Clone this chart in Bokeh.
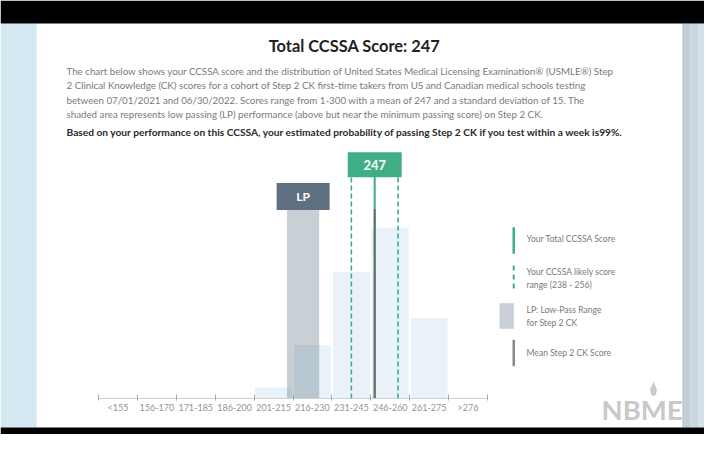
from bokeh.plotting import figure
from bokeh.models import Range1d, FixedTicker
from bokeh.core.properties import value
from bokeh.embed import file_html
from bokeh.resources import INLINE

# ---------------- data ----------------
bins = ["<155", "156-170", "171-185", "186-200", "201-215", "216-230",
        "231-245", "246-260", "261-275", ">276"]
bin_start = [141, 156, 171, 186, 201, 216, 231, 246, 261, 276]
bin_end = [155, 170, 185, 200, 215, 230, 245, 260, 275, 290]
pct = [0, 0, 0, 0, 2.2, 10.6, 25.1, 33.9, 15.9, 0]
score = 247
score_range = [238, 256]
mean_score = 247
lp_range = [213.2, 225.6]

title = f"Total CCSSA Score: {score}"
para = [
    "The chart below shows your CCSSA score and the distribution of United States Medical Licensing Examination\u00ae (USMLE\u00ae)  Step",
    "2 Clinical Knowledge (CK) scores for a cohort of Step 2 CK first-time takers from US and Canadian medical schools  testing",
    "between 07/01/2021 and 06/30/2022. Scores range from 1-300 with a mean of 247 and a standard deviation of 15.  The",
    "shaded area represents low passing (LP) performance (above but near the minimum passing score) on Step 2 CK.",
]
bold_line = "Based on your performance on this CCSSA, your estimated probability of passing Step 2 CK if you test within a week is99%."
legend_items = [["Your Total CCSSA Score"],
                ["Your CCSSA likely score", f"range ({score_range[0]} - {score_range[1]})"],
                ["LP: Low-Pass Range", "for Step 2 CK"],
                ["Mean Step 2 CK Score"]]

# ---------------- layout ----------------
W, H = 704, 434
HL, HR, HT, HB = 98, 487, 146, 398      # histogram area in pixels
YMAX = 50.0
GREEN = "#3fae84"
SLATE = "#5e7081"
FONT = "Lato"

centers = [(s + e) / 2 for s, e in zip(bin_start, bin_end)]
edges = [bin_start[0] - 0.5] + [e + 0.5 for e in bin_end]
X0, X1 = edges[0], edges[-1]


def dx(px):
    return X0 + (px - HL) * (X1 - X0) / (HR - HL)


def dy(py):
    return (HB - py) * YMAX / (HB - HT)


p = figure(width=W, height=H, output_backend="svg", toolbar_location=None,
           x_range=Range1d(dx(0), dx(W)), y_range=Range1d(dy(H), dy(0)),
           y_axis_location=None, min_border=0)
p.xgrid.visible = False
p.ygrid.visible = False
p.outline_line_color = None
p.background_fill_color = "white"
p.border_fill_color = "white"


def box(l, r, t, b, color, alpha=1.0):
    p.quad(left=[dx(l)], right=[dx(r)], top=[dy(t)], bottom=[dy(b)],
           fill_color=color, fill_alpha=alpha, line_color=None)


def lab(text, ix, iy, size, color, bold=False, align="left"):
    p.text(x=[dx(ix)], y=[dy(iy)], text=[text], text_font=value(FONT),
           text_font_size=f"{size}px", text_color=color,
           text_font_style="bold" if bold else "normal",
           text_align=align, text_baseline="middle")


# background frame pieces
box(0, 36, 23, 427, "#d4e8f2")
box(682, 684, 23, 427, "#b4c2cc")
box(684, 690, 23, 427, "#c0ced7")
box(690, 698, 23, 427, "#c9d7e0")
box(698, 720, 23, 427, "#d2e1ea")
box(0, 720, 0, 23, "#000000")
box(0, 720, 427, 450, "#000000")

# bars
p.vbar(x=centers, top=pct, bottom=0, width=14.2, fill_color="#e8f2f8", line_color=None)
# LP shading
lp_top = 37.6
p.quad(left=[lp_range[0]], right=[lp_range[1]], bottom=[0], top=[lp_top],
       fill_color="#4a6075", fill_alpha=0.3, line_color=None)
lp_mid = (lp_range[0] + lp_range[1]) / 2
p.rect(x=[lp_mid], y=[40.1], width=53, height=27, width_units="screen", height_units="screen",
       fill_color=SLATE, line_color=None)
p.text(x=[lp_mid], y=[40.1], text=["LP"], text_font=value(FONT), text_font_style="bold",
       text_font_size="12px", text_color="white", text_align="center", text_baseline="middle")

# score range dashed lines
p.segment(x0=score_range, y0=[0, 0], x1=score_range, y1=[44.0, 44.0],
          line_color=GREEN, line_width=1.6, line_dash="5 3")
# score line
p.segment(x0=[score], y0=[0], x1=[score], y1=[45.0], line_color=GREEN, line_width=2)
# mean line
p.segment(x0=[mean_score], y0=[0], x1=[mean_score], y1=[lp_top], line_color="#6d6d6d", line_width=2)
# score box
p.rect(x=[score], y=[46.4], width=54, height=25, width_units="screen", height_units="screen",
       fill_color=GREEN, line_color=None)
p.text(x=[score], y=[46.4], text=[str(score)], text_font=value(FONT), text_font_style="bold",
       text_font_size="13px", text_color="white", text_align="center", text_baseline="middle")

# axis, drawn at y = 0 inside the frame
ax = p.xaxis[0]
ax.fixed_location = 0
ax.bounds = (X0, X1)
ax.ticker = FixedTicker(ticks=centers, minor_ticks=edges)
ax.major_label_overrides = {c: b for c, b in zip(centers, bins)}
ax.major_tick_line_color = None
ax.major_tick_in = 0
ax.major_tick_out = 0
ax.minor_tick_line_color = "#a8a8a8"
ax.minor_tick_in = 4
ax.minor_tick_out = 2
ax.axis_line_color = "#cfcfcf"
ax.major_label_text_font = FONT
ax.major_label_text_font_size = "9px"
ax.major_label_text_color = "#939393"
ax.major_label_standoff = 1

# texts
lab(title, 354, 45, 16.4, "#222222", bold=True, align="center")
for i, line in enumerate(para):
    lab(line, 66, 70 + i * 14.5, 9.75, "#7a7a7a")
lab(bold_line, 66, 131, 10.2, "#2a2a2a", bold=True)

# legend
box(512, 514.5, 226.7, 253.3, GREEN)
p.segment(x0=[dx(513.2)], y0=[dy(265)], x1=[dx(513.2)], y1=[dy(291)],
          line_color=GREEN, line_width=2, line_dash="5 4")
box(499, 513.3, 302.7, 328.3, "#c8cfd6")
box(512, 514.5, 339.3, 365.7, "#8a8a8a")
leg_y = [[238.3], [271, 284.3], [309.3, 322.7], [352.7]]
for lines, ys in zip(legend_items, leg_y):
    for t, y in zip(lines, ys):
        lab(t, 526, y, 8.6, "#7a7a7a")

# NBME logo
lab("NBME", 601, 408.5, 27.5, "#c9c9c9", bold=True)
p.patch(x=[dx(653), dx(656.5), dx(655.5), dx(653), dx(650.5), dx(649.5)],
        y=[dy(381), dy(389), dy(394), dy(396), dy(394), dy(389)],
        fill_color="#c9c9c9", line_color=None)

open("out.html", "w").write(file_html(p, INLINE))
